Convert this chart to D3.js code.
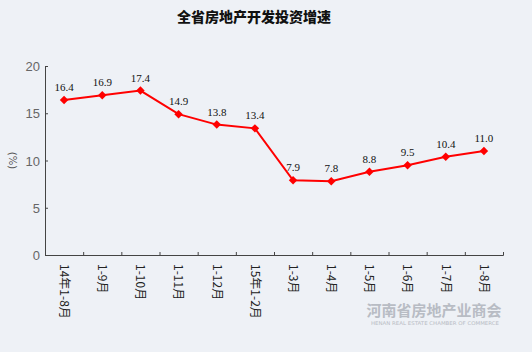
<!DOCTYPE html>
<html><head><meta charset="utf-8">
<script src="https://cdn.jsdelivr.net/npm/d3@7"></script>
<style>body{margin:0;background:#eef1f6;}svg{display:block;}</style>
</head><body>
<svg id="c" width="532" height="352"></svg>
<script>
const categories = ["14年1-8月","1-9月","1-10月","1-11月","1-12月","15年1-2月","1-3月","1-4月","1-5月","1-6月","1-7月","1-8月"];
const values = [16.4,16.9,17.4,14.9,13.8,13.4,7.9,7.8,8.8,9.5,10.4,11.0];
const yTicks = [0,5,10,15,20];

(function(){
const svg = d3.select("#c");
svg.append("rect").attr("width",532).attr("height",352).attr("fill","#eef1f6");
const mLeft=45, mRight=503, mTop=66, mBottom=255;
const x = d3.scaleBand().domain(categories).range([mLeft,mRight]);
const y = d3.scaleLinear().domain([0,20]).range([mBottom,mTop]);

svg.append("text").attr("x",254).attr("y",22).attr("text-anchor","middle")
  .attr("font-family","Noto Sans CJK SC").attr("font-weight","900").attr("font-size",14)
  .attr("fill","#111").text("全省房地产开发投资增速");

const ya = svg.append("g").attr("transform",`translate(${mLeft},0)`)
  .call(d3.axisRight(y).tickValues(yTicks).tickSize(3).tickFormat(""));
ya.select(".domain").attr("stroke","#444");
ya.selectAll(".tick line").attr("stroke","#444");
svg.selectAll(".ylab").data(yTicks).join("text").attr("class","ylab")
  .attr("x",40).attr("y",d=>y(d)+5).attr("text-anchor","end")
  .attr("font-family","Liberation Sans").attr("font-size",13).attr("fill","#666").text(d=>d);
svg.append("text").attr("transform",`translate(12,${y(10)}) rotate(90)`).attr("text-anchor","middle")
  .attr("dy","0.35em").attr("font-family","DejaVu Sans").attr("font-size",10).attr("fill","#555").text("(%)");

const xa = svg.append("g").attr("transform",`translate(0,${mBottom})`)
  .call(d3.axisTop(d3.scaleLinear().domain([0,12]).range([mLeft,mRight])).ticks(12).tickSize(3).tickFormat(""));
xa.select(".domain").attr("stroke","#444");
xa.selectAll(".tick line").attr("stroke","#444");
svg.selectAll(".xlab").data(categories).join("text").attr("class","xlab")
  .attr("transform",d=>`translate(${x(d)+x.bandwidth()/2},${mBottom+9}) rotate(90)`)
  .attr("dy","0.35em").attr("font-family","Noto Sans CJK SC").attr("font-size",12).attr("fill","#222").text(d=>d);

const cx = d=>x(d)+x.bandwidth()/2;
svg.append("path").datum(values.map((v,i)=>[categories[i],v]))
  .attr("fill","none").attr("stroke","#ff0000").attr("stroke-width",2)
  .attr("d",d3.line().x(d=>cx(d[0])).y(d=>y(d[1])));
svg.selectAll(".pt").data(values).join("path").attr("class","pt")
  .attr("transform",(d,i)=>`translate(${cx(categories[i])},${y(d)}) rotate(45)`)
  .attr("d",d3.symbol(d3.symbolSquare,36)).attr("fill","#ff0000");
svg.selectAll(".vl").data(values).join("text").attr("class","vl")
  .attr("x",(d,i)=>cx(categories[i])).attr("y",d=>y(d)-9).attr("text-anchor","middle")
  .attr("font-family","Liberation Serif").attr("font-size",11).attr("fill","#111")
  .text(d=>d.toFixed(1));

svg.append("text").attr("x",434).attr("y",316).attr("text-anchor","middle")
  .attr("font-family","Noto Sans CJK SC").attr("font-weight","bold").attr("font-size",15)
  .attr("fill","#b8bcc4").text("河南省房地产业商会");
svg.append("text").attr("x",371).attr("y",325)
  .attr("font-family","DejaVu Sans").attr("font-size",5).attr("textLength",128).attr("lengthAdjust","spacingAndGlyphs")
  .attr("fill","#b8bcc4").text("HENAN REAL ESTATE CHAMBER OF COMMERCE");
})();
</script>
</body></html>
